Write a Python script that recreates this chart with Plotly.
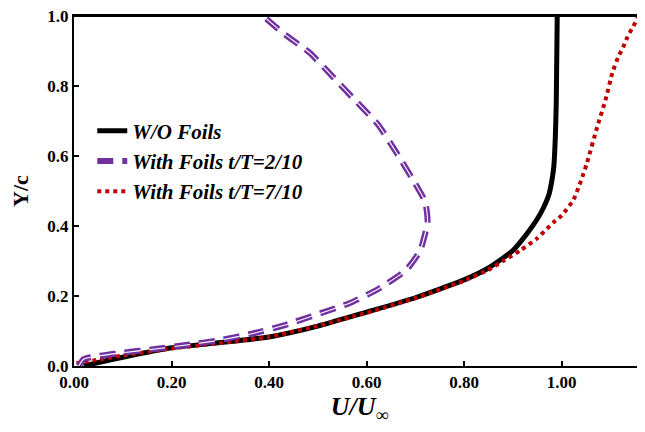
import plotly.graph_objects as go

# W/O Foils
wo_x = [0.02, 0.05, 0.1, 0.2, 0.3, 0.4, 0.5, 0.6, 0.7, 0.8, 0.85, 0.9, 0.93, 0.95, 0.962, 0.974, 0.98, 0.984, 0.987, 0.989, 0.991]
wo_y = [0.0, 0.01, 0.025, 0.052, 0.067, 0.083, 0.114, 0.154, 0.195, 0.246, 0.28, 0.33, 0.38, 0.42, 0.45, 0.49, 0.53, 0.57, 0.65, 0.75, 1.0]

# With Foils t/T=2/10
f2_x = [0.01, 0.02, 0.094, 0.163, 0.23, 0.30, 0.367, 0.433, 0.50, 0.566, 0.624, 0.681, 0.71, 0.722, 0.725, 0.724, 0.72, 0.696, 0.662, 0.624, 0.576, 0.531, 0.484, 0.429, 0.388]
f2_y = [0.0, 0.02, 0.037, 0.048, 0.06, 0.074, 0.093, 0.117, 0.148, 0.18, 0.22, 0.274, 0.33, 0.389, 0.41, 0.437, 0.47, 0.53, 0.608, 0.689, 0.76, 0.826, 0.894, 0.951, 1.0]

# With Foils t/T=7/10
f7_x = [0.005, 0.05, 0.1, 0.2, 0.3, 0.4, 0.5, 0.6, 0.7, 0.8, 0.85, 0.88, 0.915, 0.95, 0.983, 1.0, 1.024, 1.04, 1.052, 1.073, 1.09, 1.104, 1.116, 1.126, 1.134, 1.145, 1.153, 1.158]
f7_y = [0.008, 0.018, 0.03, 0.05, 0.066, 0.083, 0.115, 0.152, 0.194, 0.244, 0.275, 0.3, 0.33, 0.365, 0.41, 0.43, 0.474, 0.53, 0.58, 0.683, 0.76, 0.837, 0.883, 0.91, 0.937, 0.966, 0.986, 1.0]

x_ticks = [0.0, 0.2, 0.4, 0.6, 0.8, 1.0]
x_tick_labels = ["0.00", "0.20", "0.40", "0.60", "0.80", "1.00"]
y_ticks = [0.0, 0.2, 0.4, 0.6, 0.8, 1.0]
y_tick_labels = ["0.0", "0.2", "0.4", "0.6", "0.8", "1.0"]

FONT = "Liberation Serif, Times New Roman, serif"
PURPLE = "#7030A0"
RED = "#C00000"

fig = go.Figure()
fig.add_trace(go.Scatter(x=wo_x, y=wo_y, mode="lines", name="<b><i>W/O Foils</i></b>",
                         line=dict(color="black", width=5, shape="spline", smoothing=0.5),
                         legendgroup="a", legendrank=1))
fig.add_trace(go.Scatter(x=f7_x, y=f7_y, mode="lines", name="<b><i>With Foils t/T=7/10</i></b>",
                         line=dict(color=RED, width=4, dash="4px,4px", shape="spline", smoothing=0.5),
                         legendgroup="c", legendrank=3))
fig.add_trace(go.Scatter(x=f2_x, y=f2_y, mode="lines", name="<b><i>With Foils t/T=2/10</i></b>",
                         line=dict(color=PURPLE, width=6, dash="16px,9px", shape="spline", smoothing=0.5),
                         legendgroup="b", legendrank=2))
fig.add_trace(go.Scatter(x=f2_x, y=f2_y, mode="lines", showlegend=False, hoverinfo="skip",
                         line=dict(color="white", width=1.1, dash="16px,9px", shape="spline", smoothing=0.5),
                         legendgroup="b"))

fig.add_shape(type="line", xref="paper", yref="paper", x0=0, x1=1, y0=1, y1=1,
              line=dict(color="black", width=2), layer="above")

fig.update_layout(
    width=637, height=424,
    margin=dict(l=66, r=0, t=8, b=66),
    plot_bgcolor="white", paper_bgcolor="white",
    font=dict(family=FONT, color="black"),
    showlegend=True,
    legend=dict(x=0.032, y=0.73, xanchor="left", yanchor="top",
                font=dict(family=FONT, size=21, color="black"),
                bgcolor="rgba(0,0,0,0)", tracegroupgap=0, itemwidth=30,
                traceorder="normal"),
    xaxis=dict(range=[0, 1.171], tickvals=x_ticks, ticktext=x_tick_labels,
               ticks="inside", ticklen=5, tickwidth=1.5, tickcolor="black",
               showline=True, linecolor="black", linewidth=2, mirror=True,
               showgrid=False, zeroline=False, automargin=False, ticklabeloverflow="allow",
               tickfont=dict(family=FONT, size=17, color="black", weight="bold"),
               title=dict(text="<b><i>U/U<sub>∞</sub></i></b>", font=dict(family=FONT, size=26), standoff=4)),
    yaxis=dict(range=[0, 1.0], tickvals=y_ticks, ticktext=y_tick_labels,
               ticks="inside", ticklen=5, tickwidth=1.5, tickcolor="black",
               showline=True, linecolor="black", linewidth=2,
               showgrid=False, zeroline=False, automargin=False, ticklabeloverflow="allow",
               tickfont=dict(family=FONT, size=17, color="black", weight="bold"),
               title=dict(text="<b>Y/c</b>", font=dict(family=FONT, size=22), standoff=13)),
)

fig.write_html("out.html")
